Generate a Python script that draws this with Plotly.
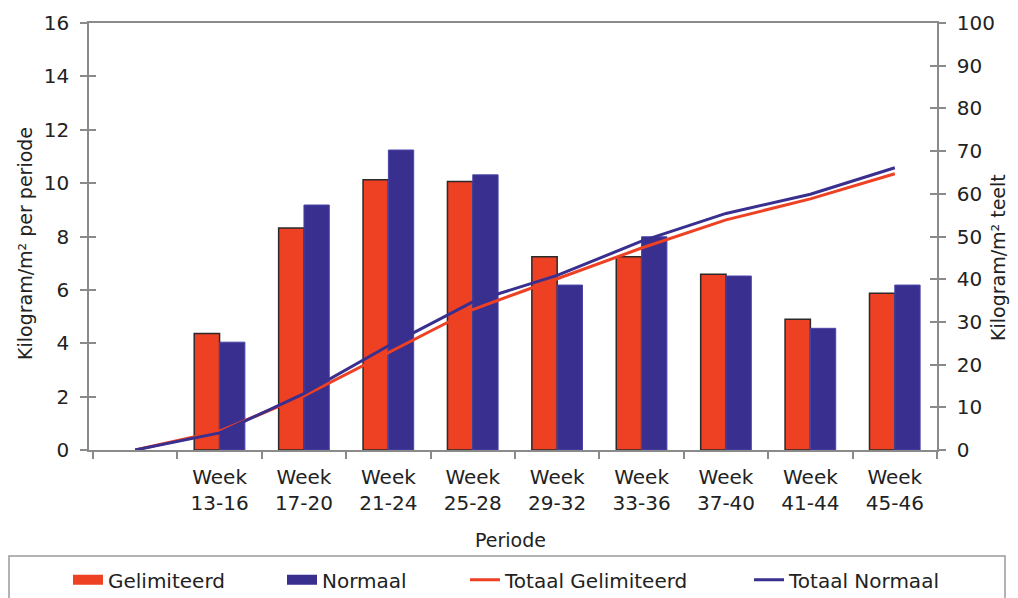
import plotly.graph_objects as go

# categories (first slot is empty: lines start there at 0)
periods = [" ", "Week<br>13-16", "Week<br>17-20", "Week<br>21-24", "Week<br>25-28",
           "Week<br>29-32", "Week<br>33-36", "Week<br>37-40", "Week<br>41-44", "Week<br>45-46"]

# kg/m2 per periode
gelimiteerd = [None, 4.37, 8.32, 10.13, 10.06, 7.24, 7.24, 6.59, 4.90, 5.87]
normaal = [None, 4.04, 9.18, 11.24, 10.31, 6.18, 7.99, 6.52, 4.56, 6.18]

# kg/m2 teelt (cumulatief)
totaal_gelimiteerd = [0, 4.4, 12.7, 22.8, 32.9, 40.1, 47.3, 53.9, 58.8, 64.7]
totaal_normaal = [0, 4.0, 13.2, 24.4, 34.7, 40.9, 48.9, 55.4, 59.9, 66.1]

RED = "#ee4023"
BLUE = "#382f8f"
AXIS = "#8a8a8a"
TXT = "#222222"
FONT = "DejaVu Sans"

# page body adds an 8px margin, so the figure is 8px smaller than the window
fig = go.Figure()
fig.add_trace(go.Bar(x=periods, y=gelimiteerd, name="Gelimiteerd", showlegend=False,
                     marker=dict(color=RED, line=dict(color="#2a2a2a", width=1.5))))
fig.add_trace(go.Bar(x=periods, y=normaal, name="Normaal", showlegend=False,
                     marker=dict(color=BLUE, line=dict(color="#4a45a8", width=1))))
fig.add_trace(go.Scatter(x=periods, y=totaal_gelimiteerd, name="Totaal Gelimiteerd",
                         mode="lines", line=dict(color=RED, width=3),
                         yaxis="y2", legend="legend3"))
fig.add_trace(go.Scatter(x=periods, y=totaal_normaal, name="Totaal Normaal",
                         mode="lines", line=dict(color=BLUE, width=3),
                         yaxis="y2", legend="legend4"))

# wide block swatches for the bar series in the legend
fig.add_trace(go.Scatter(x=[periods[0]], y=[None], name="Gelimiteerd", mode="lines",
                         line=dict(color=RED, width=12), legend="legend",
                         hoverinfo="skip"))
fig.add_trace(go.Scatter(x=[periods[0]], y=[None], name="Normaal", mode="lines",
                         line=dict(color=BLUE, width=12), legend="legend2",
                         hoverinfo="skip"))

tickfont = dict(family=FONT, size=20, color=TXT)
legfont = dict(family=FONT, size=20, color=TXT)

def leg(xpos):
    return dict(x=xpos, xanchor="left", y=-0.304, yanchor="middle",
                orientation="h", font=legfont, bgcolor="rgba(0,0,0,0)",
                itemwidth=30)

fig.update_layout(
    width=1010, height=590,
    margin=dict(l=81, r=81, t=15, b=148, autoexpand=False),
    plot_bgcolor="white", paper_bgcolor="white",
    barmode="group", bargap=0.4, bargroupgap=0,
    font=dict(family=FONT, color=TXT),
    xaxis=dict(type="category", tickson="boundaries", ticks="outside", ticklen=7,
               tickcolor=AXIS, tickwidth=1.5, showline=True, linecolor=AXIS,
               linewidth=1.5, mirror=True, showgrid=False, tickfont=tickfont,
               ticklabelstandoff=8),
    yaxis=dict(range=[0, 16], dtick=2, ticks="outside", ticklen=7, tickcolor=AXIS,
               tickwidth=1.5, showline=True, linecolor=AXIS, linewidth=1.5,
               showgrid=False, zeroline=False, tickfont=tickfont,
               ticklabelstandoff=7),
    yaxis2=dict(range=[0, 100], dtick=10, overlaying="y", side="right",
                ticks="outside", ticklen=7, tickcolor=AXIS, tickwidth=1.5,
                showline=True, linecolor=AXIS, linewidth=1.5, showgrid=False,
                zeroline=False, tickfont=tickfont, ticklabelstandoff=7),
    yaxis3=dict(range=[0, 16], dtick=2, overlaying="y", side="left", ticks="inside",
                ticklen=7, tickcolor=AXIS, tickwidth=1.5, showticklabels=False,
                showline=False, showgrid=False, zeroline=False),
    yaxis4=dict(range=[0, 100], dtick=10, overlaying="y", side="right", ticks="inside",
                ticklen=7, tickcolor=AXIS, tickwidth=1.5, showticklabels=False,
                showline=False, showgrid=False, zeroline=False),
    legend=leg(-0.0248),
    legend2=leg(0.2276),
    legend3=leg(0.4434),
    legend4=leg(0.7783),
    showlegend=True,
)

# invisible traces so the crossing-tick axes get drawn
fig.add_trace(go.Scatter(x=[periods[0]], y=[0], yaxis="y3", showlegend=False,
                         mode="markers", marker=dict(opacity=0), hoverinfo="skip"))
fig.add_trace(go.Scatter(x=[periods[0]], y=[0], yaxis="y4", showlegend=False,
                         mode="markers", marker=dict(opacity=0), hoverinfo="skip"))

# axis titles (positions relative to the 848x427 plot area)
title_font = dict(family=FONT, size=19, color=TXT)
fig.add_annotation(text="Kilogram/m² per periode", xref="paper", yref="paper",
                   x=(25 - 89) / 848, y=(450 - 244) / 427, textangle=-90,
                   xanchor="center", yanchor="middle",
                   showarrow=False, font=title_font)
fig.add_annotation(text="Kilogram/m² teelt", xref="paper", yref="paper",
                   x=(998 - 89) / 848, y=(450 - 258) / 427, textangle=-90,
                   xanchor="center", yanchor="middle",
                   showarrow=False, font=title_font)
fig.add_annotation(text="Periode", xref="paper", yref="paper",
                   x=(510 - 89) / 848, y=(450 - 540) / 427,
                   xanchor="center", yanchor="middle",
                   showarrow=False, font=title_font)

# legend frame
fig.add_shape(type="rect", xref="paper", yref="paper",
              x0=(9 - 89) / 848, x1=(1005 - 89) / 848,
              y0=(450 - 556) / 427, y1=(450 - 610) / 427,
              line=dict(color="#9a9a9a", width=1.5))

fig.write_html("out.html")
